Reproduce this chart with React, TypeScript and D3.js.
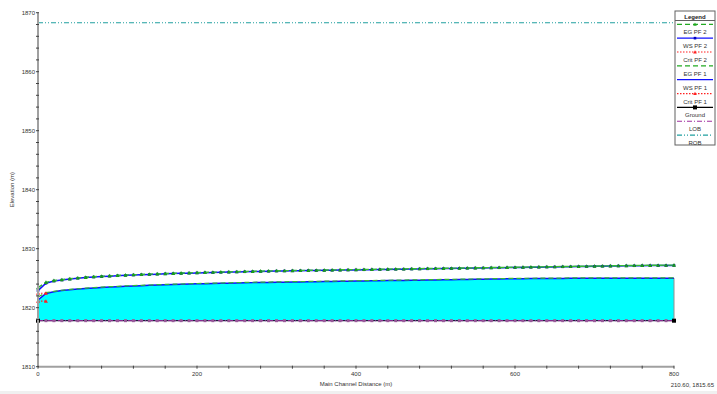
import React from "react";
import * as d3 from "d3";

// river stations (m)
const STATIONS = [
  0, 10, 20, 30, 40, 50, 60, 70, 80, 90, 100, 110, 120, 130, 140, 150, 160, 170, 180, 190,
  200, 210, 220, 230, 240, 250, 260, 270, 280, 290, 300, 310, 320, 330, 340, 350, 360, 370, 380, 390,
  400, 410, 420, 430, 440, 450, 460, 470, 480, 490, 500, 510, 520, 530, 540, 550, 560, 570, 580, 590,
  600, 610, 620, 630, 640, 650, 660, 670, 680, 690, 700, 710, 720, 730, 740, 750, 760, 770, 780, 790, 800,
];

const EG_PF2 = [
  1823.4, 1824.3, 1824.6, 1824.75, 1824.9, 1825.05, 1825.15, 1825.25, 1825.33, 1825.4,
  1825.47, 1825.53, 1825.59, 1825.64, 1825.69, 1825.74, 1825.79, 1825.83, 1825.87, 1825.91,
  1825.95, 1825.99, 1826.02, 1826.05, 1826.08, 1826.11, 1826.14, 1826.17, 1826.2, 1826.23,
  1826.26, 1826.28, 1826.3, 1826.32, 1826.34, 1826.36, 1826.38, 1826.4, 1826.42, 1826.44,
  1826.46, 1826.48, 1826.5, 1826.52, 1826.54, 1826.56, 1826.58, 1826.6, 1826.62, 1826.64,
  1826.66, 1826.68, 1826.7, 1826.72, 1826.74, 1826.76, 1826.78, 1826.8, 1826.82, 1826.84,
  1826.86, 1826.88, 1826.9, 1826.92, 1826.94, 1826.96, 1826.98, 1827.0, 1827.02, 1827.04,
  1827.06, 1827.08, 1827.1, 1827.12, 1827.14, 1827.16, 1827.18, 1827.19, 1827.2, 1827.21, 1827.22,
];

const WS_PF2 = [
  1822.9, 1824.15, 1824.52, 1824.69, 1824.85, 1825.0, 1825.1, 1825.2, 1825.28, 1825.35,
  1825.42, 1825.48, 1825.54, 1825.59, 1825.64, 1825.69, 1825.74, 1825.78, 1825.82, 1825.86,
  1825.9, 1825.94, 1825.97, 1826.0, 1826.03, 1826.06, 1826.09, 1826.12, 1826.15, 1826.18,
  1826.21, 1826.23, 1826.25, 1826.27, 1826.29, 1826.31, 1826.33, 1826.35, 1826.37, 1826.39,
  1826.41, 1826.43, 1826.45, 1826.47, 1826.49, 1826.51, 1826.53, 1826.55, 1826.57, 1826.59,
  1826.61, 1826.63, 1826.65, 1826.67, 1826.69, 1826.71, 1826.73, 1826.75, 1826.77, 1826.79,
  1826.81, 1826.83, 1826.85, 1826.87, 1826.89, 1826.91, 1826.93, 1826.95, 1826.97, 1826.99,
  1827.01, 1827.03, 1827.05, 1827.07, 1827.09, 1827.11, 1827.13, 1827.14, 1827.15, 1827.16, 1827.17,
];

const EG_PF1 = [
  1821.8, 1822.55, 1822.78, 1822.96, 1823.11, 1823.21, 1823.31, 1823.41, 1823.49, 1823.56,
  1823.63, 1823.69, 1823.75, 1823.8, 1823.85, 1823.9, 1823.94, 1823.98, 1824.02, 1824.06,
  1824.1, 1824.13, 1824.16, 1824.19, 1824.22, 1824.25, 1824.28, 1824.31, 1824.33, 1824.35,
  1824.37, 1824.39, 1824.41, 1824.43, 1824.45, 1824.47, 1824.49, 1824.51, 1824.53, 1824.55,
  1824.57, 1824.59, 1824.61, 1824.63, 1824.65, 1824.67, 1824.69, 1824.71, 1824.73, 1824.75,
  1824.77, 1824.79, 1824.81, 1824.83, 1824.85, 1824.87, 1824.89, 1824.91, 1824.93, 1824.95,
  1824.97, 1824.98, 1824.99, 1825.0, 1825.01, 1825.02, 1825.03, 1825.04, 1825.05, 1825.06,
  1825.06, 1825.06, 1825.06, 1825.06, 1825.06, 1825.06, 1825.06, 1825.06, 1825.06, 1825.06, 1825.06,
];

const WS_PF1 = [
  1821.3, 1822.4, 1822.7, 1822.9, 1823.05, 1823.15, 1823.25, 1823.35, 1823.43, 1823.5,
  1823.57, 1823.63, 1823.69, 1823.74, 1823.79, 1823.84, 1823.88, 1823.92, 1823.96, 1824.0,
  1824.04, 1824.07, 1824.1, 1824.13, 1824.16, 1824.19, 1824.22, 1824.25, 1824.27, 1824.29,
  1824.31, 1824.33, 1824.35, 1824.37, 1824.39, 1824.41, 1824.43, 1824.45, 1824.47, 1824.49,
  1824.51, 1824.53, 1824.55, 1824.57, 1824.59, 1824.61, 1824.63, 1824.65, 1824.67, 1824.69,
  1824.71, 1824.73, 1824.75, 1824.77, 1824.79, 1824.81, 1824.83, 1824.85, 1824.87, 1824.89,
  1824.91, 1824.92, 1824.93, 1824.94, 1824.95, 1824.96, 1824.97, 1824.98, 1824.99, 1825.0,
  1825.0, 1825.0, 1825.0, 1825.0, 1825.0, 1825.0, 1825.0, 1825.0, 1825.0, 1825.0, 1825.0,
];

const GROUND = [
  1817.8, 1817.8, 1817.8, 1817.8, 1817.8, 1817.8, 1817.8, 1817.8, 1817.8, 1817.8,
  1817.8, 1817.8, 1817.8, 1817.8, 1817.8, 1817.8, 1817.8, 1817.8, 1817.8, 1817.8,
  1817.8, 1817.8, 1817.8, 1817.8, 1817.8, 1817.8, 1817.8, 1817.8, 1817.8, 1817.8,
  1817.8, 1817.8, 1817.8, 1817.8, 1817.8, 1817.8, 1817.8, 1817.8, 1817.8, 1817.8,
  1817.8, 1817.8, 1817.8, 1817.8, 1817.8, 1817.8, 1817.8, 1817.8, 1817.8, 1817.8,
  1817.8, 1817.8, 1817.8, 1817.8, 1817.8, 1817.8, 1817.8, 1817.8, 1817.8, 1817.8,
  1817.8, 1817.8, 1817.8, 1817.8, 1817.8, 1817.8, 1817.8, 1817.8, 1817.8, 1817.8,
  1817.8, 1817.8, 1817.8, 1817.8, 1817.8, 1817.8, 1817.8, 1817.8, 1817.8, 1817.8, 1817.8,
];

// critical depth only computed at the downstream sections
const CRIT_STATIONS = [0, 10];
const CRIT_PF2 = [1822.45, 1822.45];
const CRIT_PF1 = [1821.1, 1821.1];

const ROB_STATIONS = [0, 800];
const ROB = [1868.3, 1868.3];

const X_LABELS = [0, 200, 400, 600, 800];
const Y_LABELS = [1810, 1820, 1830, 1840, 1850, 1860, 1870];

const LEGEND = [
  { name: "EG  PF 2", color: "#22aa22", dash: "5 3", marker: "tri" },
  { name: "WS  PF 2", color: "#1010ff", dash: "", marker: "sq" },
  { name: "Crit  PF 2", color: "#ff2020", dash: "1.5 1.5", marker: "tri" },
  { name: "EG  PF 1", color: "#22aa22", dash: "5 3", marker: "" },
  { name: "WS  PF 1", color: "#1010ff", dash: "", marker: "" },
  { name: "Crit  PF 1", color: "#ff2020", dash: "1.5 1.5", marker: "tri" },
  { name: "Ground", color: "#000000", dash: "", marker: "blk" },
  { name: "LOB", color: "#a030a0", dash: "5 2 1 2", marker: "" },
  { name: "ROB", color: "#20a0a0", dash: "5 2 1 2 1 2", marker: "" },
];

const FONT = "'Liberation Sans', Arial, sans-serif";

export default function App() {
  const x = d3.scaleLinear().domain([0, 800]).range([38, 674]);
  const y = d3.scaleLinear().domain([1810, 1870]).range([366.7, 12.7]);

  const line = (xs: number[], ys: number[]) =>
    d3.line<number>().x((_, i) => x(xs[i])).y((d) => y(d))(ys) || "";

  const water = d3
    .area<number>()
    .x((_, i) => x(STATIONS[i]))
    .y0((_, i) => y(GROUND[i]))
    .y1((d) => y(d))(WS_PF1) || "";

  const tri = (cx: number, cy: number, s: number) =>
    `M${cx},${cy - s}L${cx + s},${cy + s * 0.8}L${cx - s},${cy + s * 0.8}Z`;

  const minorX = d3.range(0, 801, 40);
  const minorY = d3.range(1810, 1871, 2);

  return (
    <svg
      width={717}
      height={394}
      style={{ position: "fixed", left: 0, top: 0, background: "#fff" }}
      fontFamily={FONT}
    >
      <rect x={0} y={391} width={717} height={3} fill="#f0f0f0" />

      {/* water fill */}
      <path d={water} fill="#00ffff" stroke="none" />
      <line x1={x(800)} x2={x(800)} y1={y(GROUND[80])} y2={y(WS_PF1[80])} stroke="#909090" strokeWidth={1} />

      {/* ROB */}
      <path d={line(ROB_STATIONS, ROB)} fill="none" stroke="#20a0a0" strokeWidth={1.2} strokeDasharray="5 2 1 2 1 2" />

      {/* ground + LOB */}
      <path d={line(STATIONS, GROUND)} fill="none" stroke="#202040" strokeWidth={1.3} />
      <path d={line(STATIONS, GROUND)} fill="none" stroke="#a030a0" strokeWidth={1} strokeDasharray="5 2 1 2" />
      {STATIONS.map((s, i) => (
        <rect key={"lob" + i} x={x(s) - 1.5} y={y(GROUND[i]) - 1.5} width={3} height={3} fill="#9a5a9a" />
      ))}
      {[0, 80].map((i) => (
        <rect key={"gb" + i} x={x(STATIONS[i]) - 2} y={y(GROUND[i]) - 2} width={4} height={4} fill="#000" />
      ))}

      {/* PF 1 */}
      <path d={line(STATIONS, WS_PF1)} fill="none" stroke="#1010ff" strokeWidth={1.5} />
      <path d={line(STATIONS, EG_PF1)} fill="none" stroke="#33bb33" strokeWidth={1.2} strokeDasharray="5 3" />

      {/* PF 2 */}
      <path d={line(STATIONS, WS_PF2)} fill="none" stroke="#1010ff" strokeWidth={1.5} />
      {STATIONS.map((s, i) => (
        <rect key={"ws2" + i} x={x(s) - 1.3} y={y(WS_PF2[i]) - 1.3} width={2.6} height={2.6} fill="#0000c0" />
      ))}
      <path d={line(STATIONS, EG_PF2)} fill="none" stroke="#33bb33" strokeWidth={1.4} strokeDasharray="5 3" />
      {STATIONS.map((s, i) => (
        <path key={"eg2" + i} d={tri(x(s), y(EG_PF2[i]), 2)} fill="#1a9a1a" />
      ))}

      {/* critical */}
      <path d={line(CRIT_STATIONS, CRIT_PF2)} fill="none" stroke="#ff2020" strokeWidth={1.2} strokeDasharray="1.5 1.5" />
      <path d={line(CRIT_STATIONS, CRIT_PF1)} fill="none" stroke="#ff2020" strokeWidth={1.2} strokeDasharray="1.5 1.5" />
      {CRIT_STATIONS.map((s, i) => (
        <g key={"cr" + i}>
          <path d={tri(x(s), y(CRIT_PF2[i]), 2)} fill="#ff2020" />
          <path d={tri(x(s), y(CRIT_PF1[i]), 2)} fill="#ff2020" />
        </g>
      ))}

      {/* axes */}
      <line x1={38} x2={38} y1={y(1870)} y2={y(1810)} stroke="#a0a0a0" strokeWidth={2} />
      <line x1={38} x2={x(800)} y1={y(1810)} y2={y(1810)} stroke="#a0a0a0" strokeWidth={2} />
      {minorY.map((v) => (
        <line key={"my" + v} x1={36} x2={39} y1={y(v)} y2={y(v)} stroke="#404040" strokeWidth={1} />
      ))}
      {minorX.map((v) => (
        <line key={"mx" + v} x1={x(v)} x2={x(v)} y1={y(1810) - 1} y2={y(1810) + 2} stroke="#404040" strokeWidth={1} />
      ))}
      {Y_LABELS.map((v) => (
        <text key={"yl" + v} x={35} y={y(v) + 2} fontSize={6} textAnchor="end" fill="#333">
          {v}
        </text>
      ))}
      {X_LABELS.map((v) => (
        <text key={"xl" + v} x={x(v)} y={y(1810) + 9} fontSize={6} textAnchor="middle" fill="#333">
          {v}
        </text>
      ))}
      <text x={x(400)} y={386} fontSize={6} textAnchor="middle" fill="#333">
        Main Channel Distance (m)
      </text>
      <text transform={`translate(14,${y(1840)}) rotate(-90)`} fontSize={6} textAnchor="middle" fill="#333">
        Elevation (m)
      </text>
      <text x={714} y={387} fontSize={6} textAnchor="end" fill="#333">
        210.60, 1815.65
      </text>

      {/* legend */}
      <g>
        <rect x={675} y={11} width={40} height={134} fill="#fff" stroke="#606060" strokeWidth={1} />
        <text x={695} y={18.5} fontSize={6} fontWeight="bold" textAnchor="middle" fill="#222">
          Legend
        </text>
        <line x1={675} x2={715} y1={20.5} y2={20.5} stroke="#606060" strokeWidth={1} />
        {LEGEND.map((d, i) => {
          const ly = 24.3 + i * 13.85;
          return (
            <g key={d.name}>
              <line x1={677} x2={713} y1={ly} y2={ly} stroke={d.color} strokeWidth={1.2} strokeDasharray={d.dash || undefined} />
              {d.marker === "tri" && <path d={tri(695, ly, 1.8)} fill={d.color} />}
              {d.marker === "sq" && <rect x={693.7} y={ly - 1.3} width={2.6} height={2.6} fill="#0000c0" />}
              {d.marker === "blk" && <rect x={693} y={ly - 2} width={4} height={4} fill="#000" />}
              <text x={695} y={ly + 10} fontSize={6} textAnchor="middle" fill="#333">
                {d.name}
              </text>
            </g>
          );
        })}
      </g>
    </svg>
  );
}
